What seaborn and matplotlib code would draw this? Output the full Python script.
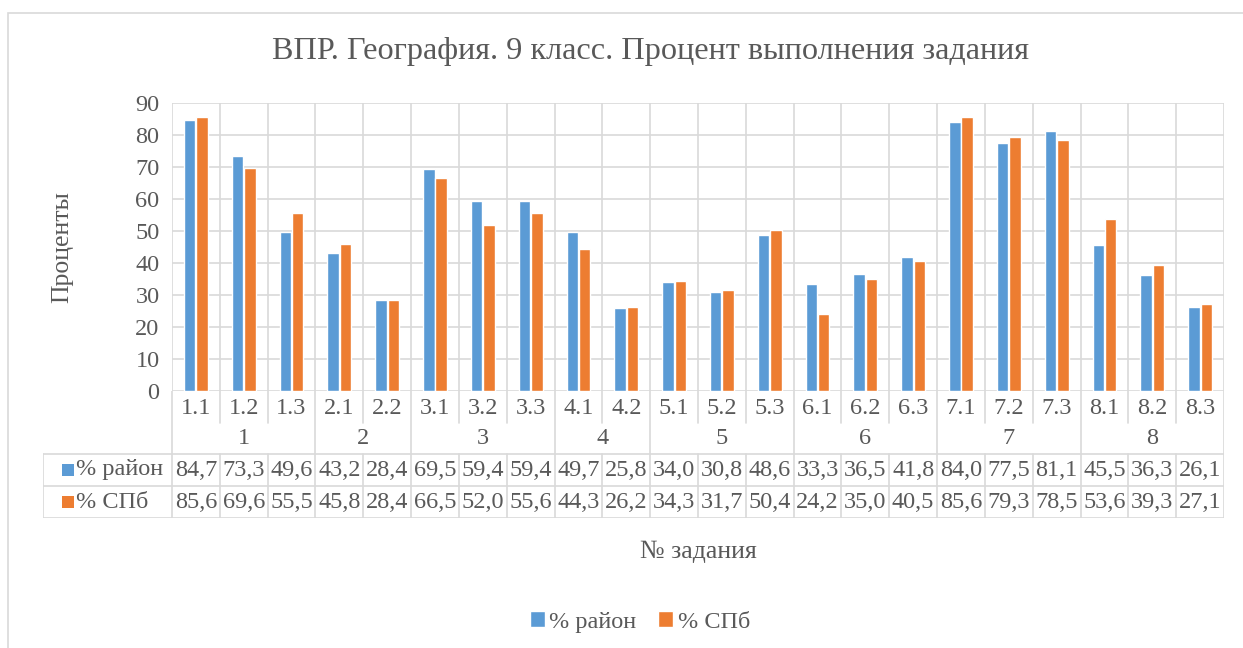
import matplotlib
matplotlib.use('Agg')
import matplotlib.pyplot as plt
import seaborn as sns
import pandas as pd
from matplotlib.patches import Rectangle

# ---- data ----
tasks = ['1.1', '1.2', '1.3', '2.1', '2.2', '3.1', '3.2', '3.3', '4.1', '4.2',
         '5.1', '5.2', '5.3', '6.1', '6.2', '6.3', '7.1', '7.2', '7.3',
         '8.1', '8.2', '8.3']
groups = ['1', '2', '3', '4', '5', '6', '7', '8']
group_sizes = [3, 2, 3, 2, 3, 3, 3, 3]
raion = [84.7, 73.3, 49.6, 43.2, 28.4, 69.5, 59.4, 59.4, 49.7, 25.8,
         34.0, 30.8, 48.6, 33.3, 36.5, 41.8, 84.0, 77.5, 81.1,
         45.5, 36.3, 26.1]
spb = [85.6, 69.6, 55.5, 45.8, 28.4, 66.5, 52.0, 55.6, 44.3, 26.2,
       34.3, 31.7, 50.4, 24.2, 35.0, 40.5, 85.6, 79.3, 78.5,
       53.6, 39.3, 27.1]
series_names = ['% район', '% СПб']

BLUE = '#5B9BD5'
ORANGE = '#ED7D31'
GRID = '#D9D9D9'
TXT = '#595959'

n = len(tasks)
df = pd.DataFrame({
    'task': tasks * 2,
    'value': raion + spb,
    'series': [series_names[0]] * n + [series_names[1]] * n,
})

sns.set_theme(style='white')
plt.rcParams['font.family'] = ['Liberation Serif', 'DejaVu Serif']

W, H = 1243, 648
fig = plt.figure(figsize=(W / 100, H / 100), dpi=100)


def fx(px):
    return px / W


def fy(py):
    return 1 - py / H


# outer chart border (cropped in the reference)
fig.add_artist(Rectangle((fx(8), -0.1), 1.2, fy(13) + 0.1, transform=fig.transFigure,
                         fill=False, edgecolor=GRID, lw=1.2))

# ---- main bar axes ----
L, R, T, B = 172, 1224, 103, 391
ax = fig.add_axes([fx(L), fy(B), fx(R) - fx(L), fy(T) - fy(B)])
sns.barplot(data=df, x='task', y='value', hue='series', order=tasks,
            hue_order=series_names, palette=[BLUE, ORANGE], width=0.52, gap=0.08,
            saturation=1, ax=ax, zorder=3)
handles, labels = ax.get_legend_handles_labels()
ax.get_legend().remove()

ax.set_xlim(-0.5, n - 0.5)
ax.set_ylim(0, 90)
ax.set_yticks(range(0, 91, 10))
ax.set_xticks([])
ax.set_xlabel('')
ax.set_ylabel('')
ax.yaxis.grid(True, color=GRID, lw=1.2)
for i in range(n + 1):
    ax.axvline(i - 0.5, color=GRID, lw=1.2, zorder=0)
ax.set_axisbelow(True)
for s in ax.spines.values():
    s.set_visible(False)
ax.tick_params(axis='y', length=0, labelsize=17.5, labelcolor=TXT, pad=9)

# ---- data table under the axis ----
cw = (R - L) / n
TL, TB = 43, 518
tab = fig.add_axes([fx(TL), fy(TB), fx(R) - fx(TL), fy(B) - fy(TB)])
x0 = -0.5 - (L - TL) / cw
tab.set_xlim(x0, n - 0.5)
tab.set_ylim(TB - B, 0)
tab.axis('off')

bounds = [0]
for g in group_sizes:
    bounds.append(bounds[-1] + g)

r1, r2, r3 = 32, 63, 95
for i in range(n + 1):
    top = 0
    bot = TB - B
    if i in bounds:
        tab.plot([i - 0.5, i - 0.5], [top, bot], color=GRID, lw=1.2)
    else:
        tab.plot([i - 0.5, i - 0.5], [top, r1], color=GRID, lw=1.2)
        tab.plot([i - 0.5, i - 0.5], [r2, bot], color=GRID, lw=1.2)
tab.plot([x0, x0], [r2, TB - B], color=GRID, lw=1.2)
for y in [r2, r3, TB - B]:
    tab.plot([x0, n - 0.5], [y, y], color=GRID, lw=1.2)

for i, t in enumerate(tasks):
    tab.text(i, 17, t, ha='center', va='center', fontsize=17.5, color=TXT)
for g, a, b in zip(groups, bounds[:-1], bounds[1:]):
    tab.text((a + b - 1) / 2, 47, g, ha='center', va='center', fontsize=17.5, color=TXT)

for vals, yc in [(raion, 79), (spb, 111)]:
    for i, v in enumerate(vals):
        tab.text(i, yc, f'{v:.1f}'.replace('.', ','), ha='center', va='center',
                 fontsize=17.5, color=TXT)

sq = 12 / cw
for name, col, yc in [(series_names[0], BLUE, 79), (series_names[1], ORANGE, 111)]:
    xs = x0 + (62 - TL) / cw
    tab.add_patch(Rectangle((xs, yc - 6), sq, 12, color=col, lw=0))
    tab.text(x0 + (76 - TL) / cw, yc, name, ha='left', va='center', fontsize=17.5, color=TXT)

# ---- titles and legend ----
fig.text(fx(650), fy(52), 'ВПР. География. 9 класс. Процент выполнения задания',
         ha='center', va='center', fontsize=23.2, color=TXT)
fig.text(fx(62), fy(247), 'Проценты', ha='center', va='center', rotation=90,
         fontsize=18.5, color=TXT)
fig.text(fx(698), fy(552), '№ задания', ha='center', va='center',
         fontsize=18.5, color=TXT)

fig.legend(handles, labels, loc='center', bbox_to_anchor=(fx(640), fy(622)), ncol=2,
           frameon=False, fontsize=17.5, labelcolor=TXT, handlelength=0.6,
           handleheight=0.6, handletextpad=0.2, columnspacing=0.9)

fig.savefig('out.png', dpi=100)
